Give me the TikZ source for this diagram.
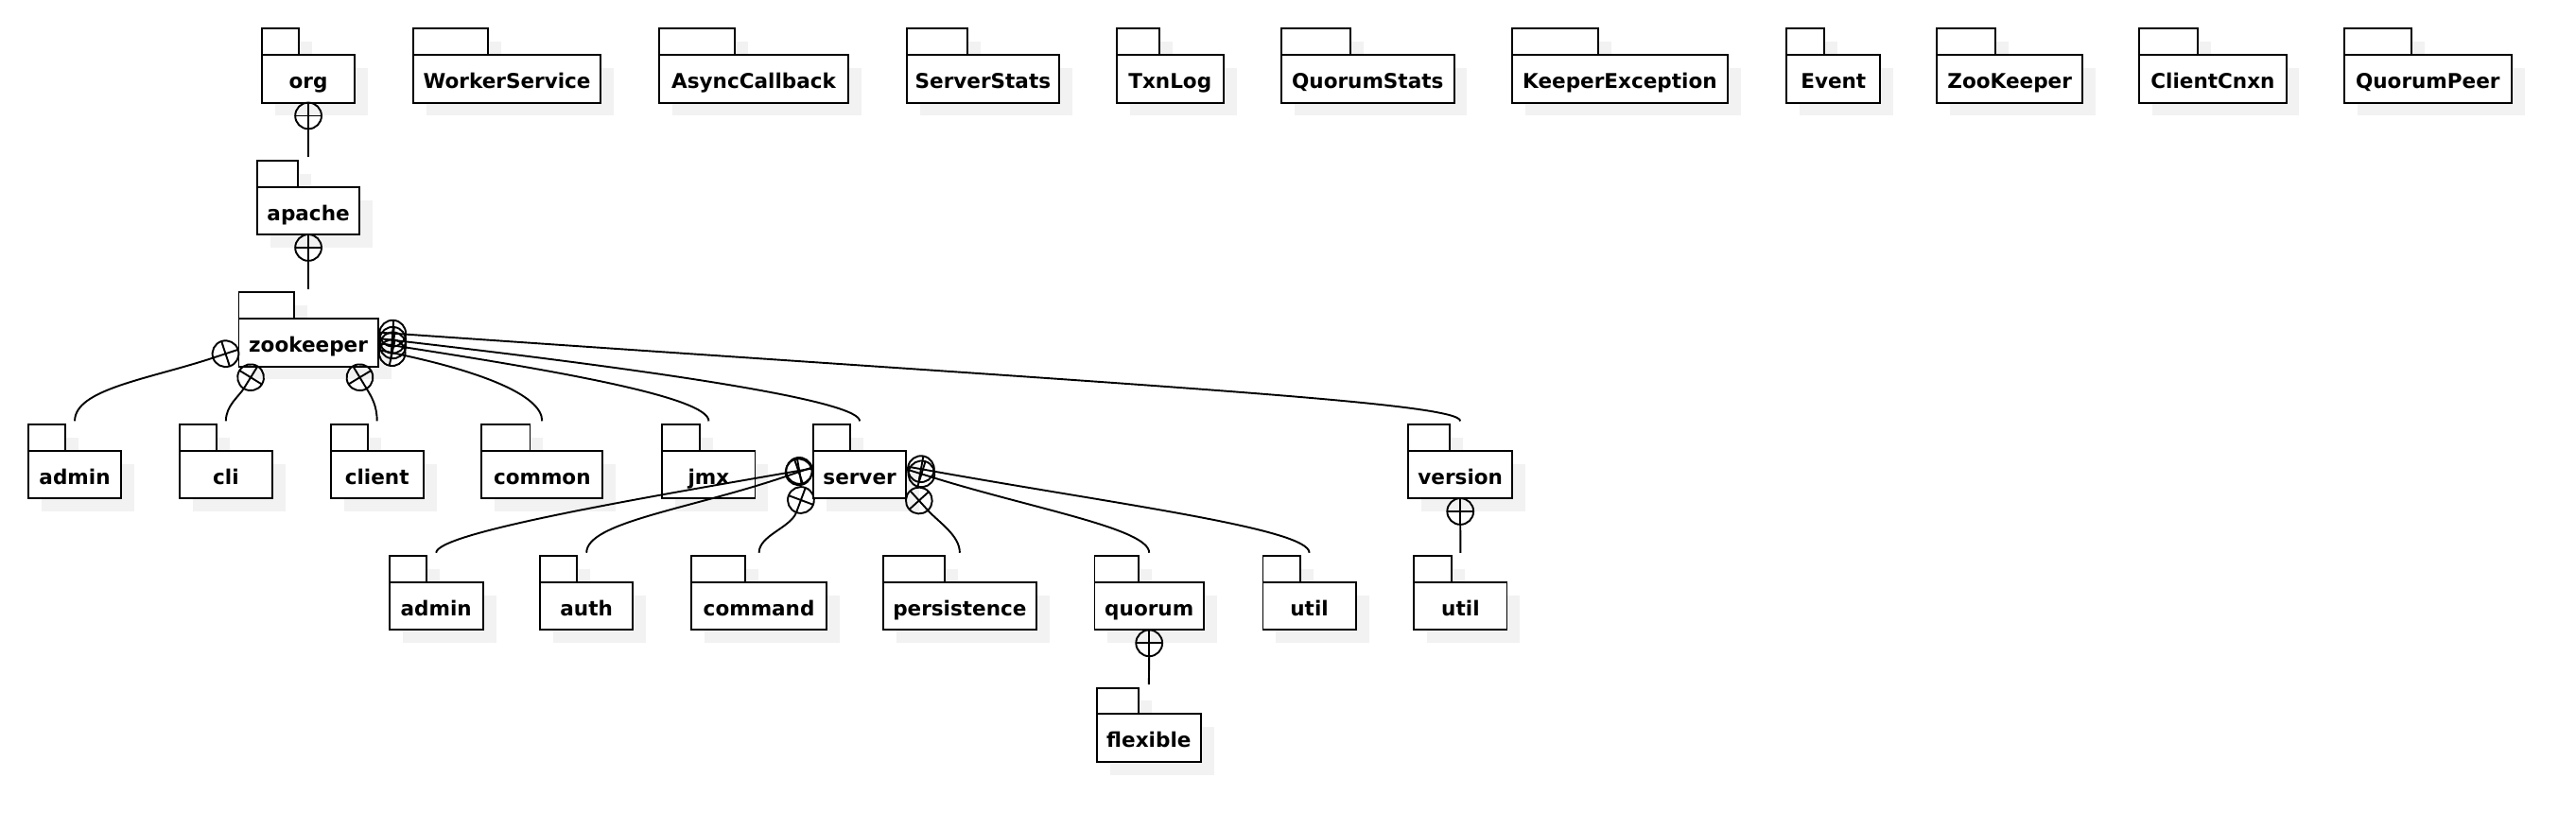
\documentclass[tikz,border=0pt]{standalone}
\usepackage{fontspec}
\setmainfont{DejaVu Sans}
\definecolor{pkgshadow}{RGB}{242,242,242}
\tikzset{
  pkgline/.style={draw=black, line width=1.1pt},
  pkgbody/.style={draw=black, line width=1.1pt, fill=white, minimum height=29pt, inner sep=0pt, outer sep=0pt,
    text height=12.4pt, text depth=0.4pt,
    font=\fontsize{12.4}{15}\selectfont\bfseries},
  conn/.style={draw=black, line width=1.1pt},
  nestcirc/.style={circle, draw=black, line width=1.1pt, minimum size=16pt, inner sep=0pt, outer sep=0pt},
}
% name, center x, body top y, width, text
\newcommand\pkg[5]{%
  \pgfmathsetmacro\pL{#2-#4/2}%
  \pgfmathsetmacro\pT{#4*0.4}%
  \fill[pkgshadow] (\pL+8,#3-8) rectangle ++(\pT,16);
  \fill[pkgshadow] (\pL+8,#3+8) rectangle ++(#4,29);
  \draw[pkgline,fill=white] (\pL,#3-16) rectangle ++(\pT,16);
  \node[pkgbody,minimum width=#4*1pt,anchor=north] (#1) at (#2,#3) {#5};
  \coordinate (#1-t) at (#2,#3-18);
}
% name, x, y, angle
\newcommand\nestmark[4]{%
  \node[nestcirc, rotate=#4] (#1) at (#2,#3) {};
  \draw[conn] (#1.west) -- (#1.east) (#1.north) -- (#1.south);
}
\begin{document}
\begin{tikzpicture}[x=1pt,y=-1pt]
\useasboundingbox (0,0) rectangle (1568,505);
% row 1
\pkg{org}{187.7}{33.5}{56.7}{org}
\pkg{workerservice}{308.6}{33.5}{113.8}{WorkerService}
\pkg{asynccallback}{458.8}{33.5}{115.4}{AsyncCallback}
\pkg{serverstats}{598.3}{33.5}{93}{ServerStats}
\pkg{txnlog}{712.2}{33.5}{65.2}{TxnLog}
\pkg{quorumstats}{832.5}{33.5}{105.1}{QuorumStats}
\pkg{keeperexception}{986}{33.5}{131.4}{KeeperException}
\pkg{event}{1116}{33.5}{57}{Event}
\pkg{zookeeperc}{1223.3}{33.5}{88.6}{ZooKeeper}
\pkg{clientcnxn}{1346.9}{33.5}{89.4}{ClientCnxn}
\pkg{quorumpeer}{1477.8}{33.5}{101.7}{QuorumPeer}
% chain
\pkg{apache}{187.7}{113.8}{62}{apache}
\pkg{zookeeper}{187.7}{194.1}{84.7}{zookeeper}
% row 2
\pkg{admin1}{45.5}{274.4}{56.8}{admin}
\pkg{cli}{137.5}{274.4}{56.6}{cli}
\pkg{client}{229.5}{274.4}{56.5}{client}
\pkg{common}{330}{274.4}{73.7}{common}
\pkg{jmx}{431.4}{274.4}{56.5}{jmx}
\pkg{server}{523.3}{274.4}{56.5}{server}
\pkg{version}{888.9}{274.4}{63.5}{version}
% row 3
\pkg{admin2}{265.5}{354.6}{57}{admin}
\pkg{auth}{357}{354.6}{56.5}{auth}
\pkg{command}{462}{354.6}{82}{command}
\pkg{persistence}{584.2}{354.6}{93}{persistence}
\pkg{quorum}{699.5}{354.6}{66.5}{quorum}
\pkg{util1}{797}{354.6}{56.5}{util}
\pkg{util2}{889}{354.6}{56.5}{util}
% row 4
\pkg{flexible}{699.3}{434.8}{63.5}{flexible}

% nesting marks
\nestmark{n-org}{187.7}{70.5}{-90}
\nestmark{n-apache}{187.7}{150.8}{-90}
\nestmark{n-admin1}{137.3}{215.4}{198.2}
\nestmark{n-cli}{152.6}{229.8}{238.2}
\nestmark{n-client}{219}{229.8}{301.2}
\nestmark{n-common}{238.7}{214.8}{-12.3}
\nestmark{n-jmx}{239.1}{210.3}{-8.9}
\nestmark{n-server}{239}{207.1}{-6.6}
\nestmark{n-version}{239}{203}{-4}
\nestmark{n-admin2}{486.5}{286.6}{189.8}
\nestmark{n-auth}{486.2}{287.4}{198.8}
\nestmark{n-command}{487.5}{304.5}{249.6}
\nestmark{n-persistence}{559.4}{304.8}{312.2}
\nestmark{n-quorum}{560.9}{288.6}{-17.2}
\nestmark{n-util1}{560.6}{285.6}{-10.2}
\nestmark{n-util2}{888.9}{311.4}{-90}
\nestmark{n-flexible}{699.5}{391.6}{-90}

% connectors
\draw[conn] (n-org.east) -- (apache-t);
\draw[conn] (n-apache.east) -- (zookeeper-t);
\draw[conn] (n-admin1.east) .. controls (90,231) and (45.5,237) .. (admin1-t);
\draw[conn] (n-cli.east) .. controls (145.3,241.5) and (137.5,247) .. (cli-t);
\draw[conn] (n-client.east) .. controls (226.1,241.5) and (229.5,247) .. (client-t);
\draw[conn] (n-common.east) .. controls (290,226) and (330,240) .. (common-t);
\draw[conn] (n-jmx.east) .. controls (340,226) and (431.4,242) .. (jmx-t);
\draw[conn] (n-server.east) .. controls (420,228) and (523.3,245) .. (server-t);
\draw[conn] (n-version.east) .. controls (700,235) and (888.9,245) .. (version-t);
\draw[conn] (n-admin2.east) .. controls (380,305) and (265.5,325) .. (admin2-t);
\draw[conn] (n-auth.east) .. controls (420,310) and (357,318) .. (auth-t);
\draw[conn] (n-command.east) .. controls (481.2,321.4) and (462,326) .. (command-t);
\draw[conn] (n-persistence.east) .. controls (571.5,318.1) and (584.2,326) .. (persistence-t);
\draw[conn] (n-quorum.east) .. controls (630,310) and (699.5,322) .. (quorum-t);
\draw[conn] (n-util1.east) .. controls (680,307) and (797,322) .. (util1-t);
\draw[conn] (n-util2.east) -- (util2-t);
\draw[conn] (n-flexible.east) -- (flexible-t);
\end{tikzpicture}
\end{document}
